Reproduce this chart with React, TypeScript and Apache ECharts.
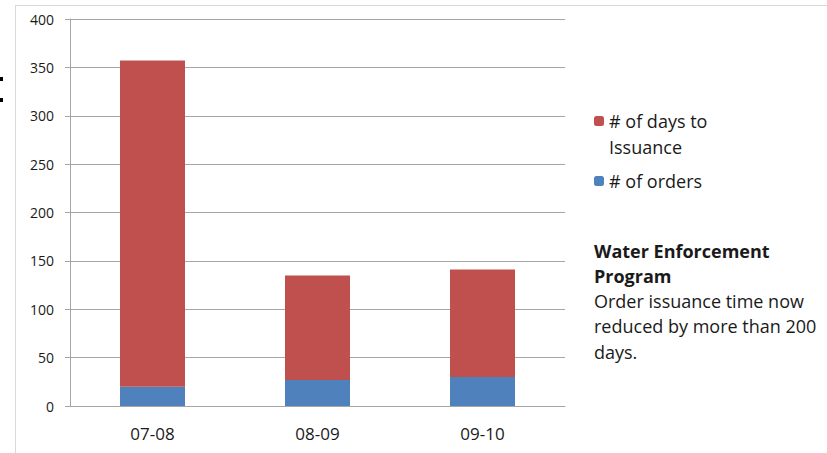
import React, { useEffect, useRef } from "react";
import * as echarts from "echarts";

const categories = ["07-08", "08-09", "09-10"];
const orders = [20, 27, 30];
const daysToIssuance = [337, 108, 111];
const yMin = 0;
const yMax = 400;
const yStep = 50;
const seriesNames = ["# of days to Issuance", "# of orders"];
const noteTitle = ["Water Enforcement", "Program"];
const noteBody = ["Order issuance time now", "reduced by more than 200", "days."];

const FONT = "'Open Sans', 'Noto Sans', sans-serif";
const RED = "#c0504d";
const BLUE = "#4f81bd";
const GRID = "#a6a6a6";

export default function App() {
  const ref = useRef<HTMLDivElement>(null);
  useEffect(() => {
    if (!ref.current) return;
    const chart = echarts.init(ref.current, undefined, { renderer: "svg" });
    const noteLines = [
      ...noteTitle.map((t) => ({ t, bold: true })),
      ...noteBody.map((t) => ({ t, bold: false })),
    ];
    const noteY = [251, 276, 301, 326, 352];
    chart.setOption({
      animation: false,
      backgroundColor: "#ffffff",
      textStyle: { fontFamily: FONT },
      grid: { left: 70, right: 262, top: 19, bottom: 47, containLabel: false },
      legend: [
        {
          data: [seriesNames[0]],
          left: 594,
          top: 82,
          padding: 0,
          itemWidth: 10,
          itemHeight: 10,
          itemStyle: { borderWidth: 0 },
          formatter: () => " \n# of days to\nIssuance",
          textStyle: {
            fontFamily: FONT,
            fontSize: 18,
            lineHeight: 26,
            color: "#1a1a1a",
          },
        },
        {
          data: [seriesNames[1]],
          left: 594,
          top: 168,
          padding: 0,
          itemWidth: 10,
          itemHeight: 10,
          itemStyle: { borderWidth: 0 },
          textStyle: { fontFamily: FONT, fontSize: 18, lineHeight: 26, color: "#1a1a1a" },
        },
      ],
      xAxis: {
        type: "category",
        data: categories,
        axisLine: { show: true, lineStyle: { color: GRID, width: 1 } },
        axisTick: { show: false },
        axisLabel: { fontFamily: FONT, fontSize: 17, color: "#1a1a1a", margin: 19 },
      },
      yAxis: {
        type: "value",
        min: yMin,
        max: yMax,
        interval: yStep,
        axisLine: { show: true, lineStyle: { color: GRID, width: 1 } },
        axisTick: { show: true, length: 5, lineStyle: { color: GRID } },
        splitLine: { show: true, lineStyle: { color: GRID, width: 1 } },
        axisLabel: { fontFamily: FONT, fontSize: 14, color: "#1a1a1a", margin: 16 },
      },
      series: [
        {
          name: seriesNames[1],
          type: "bar",
          stack: "total",
          data: orders,
          barWidth: 65,
          itemStyle: { color: BLUE },
        },
        {
          name: seriesNames[0],
          type: "bar",
          stack: "total",
          data: daysToIssuance,
          barWidth: 65,
          itemStyle: { color: RED },
        },
      ],
      graphic: [
        { type: "line", shape: { x1: 15.5, y1: 5, x2: 15.5, y2: 453 }, style: { stroke: "#d9d9d9", lineWidth: 1 } },
        { type: "line", shape: { x1: 15, y1: 5.5, x2: 827, y2: 5.5 }, style: { stroke: "#d9d9d9", lineWidth: 1 } },
        { type: "rect", shape: { x: 0, y: 77, width: 3, height: 4 }, style: { fill: "#000" } },
        { type: "rect", shape: { x: 0, y: 98, width: 3, height: 4 }, style: { fill: "#000" } },
        ...noteLines.map((l, i) => ({
          type: "text",
          x: 594,
          y: noteY[i],
          style: {
            text: l.t,
            fontFamily: FONT,
            fontSize: 18,
            fontWeight: l.bold ? "bold" : "normal",
            fill: "#1a1a1a",
            verticalAlign: "middle",
            align: "left",
          },
        })),
      ],
    });
    return () => chart.dispose();
  }, []);
  return <div ref={ref} style={{ width: 827, height: 453, position: "absolute", left: 0, top: 0 }} />;
}
